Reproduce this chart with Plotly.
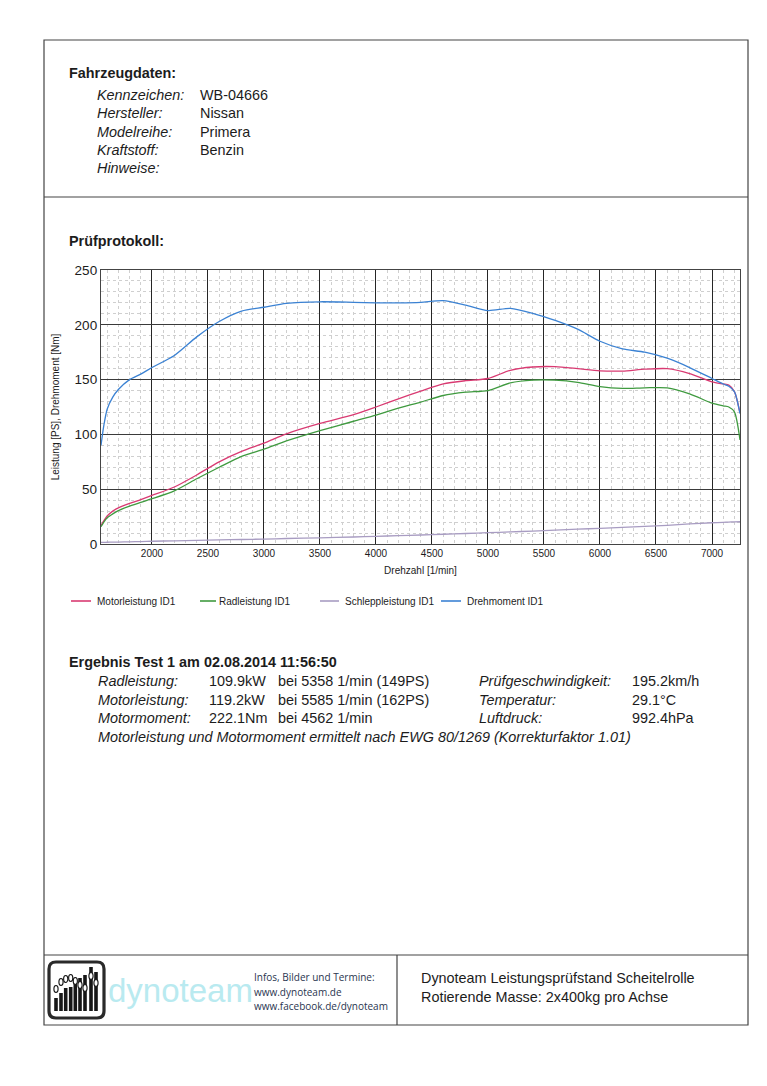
import plotly.graph_objects as go

# ---------------- data ----------------
rpm = [1545, 1570, 1600, 1650, 1700, 1800, 1900, 2000, 2200, 2400, 2600, 2800,
       3000, 3200, 3500, 3800, 4000, 4200, 4400, 4600, 4800, 5000, 5200, 5400,
       5600, 5800, 6000, 6200, 6400, 6600, 6800, 7000, 7100, 7150, 7200, 7250]

motorleistung = [17, 21, 25.5, 30, 33, 37, 40.5, 44.3, 52, 63, 75, 84.5,
                 92, 100.5, 110, 118, 125, 132.5, 139.5, 146, 149, 151, 158.5, 161.5,
                 161.8, 160, 158, 157.8, 159.5, 160, 155.5, 148, 146, 145, 139, 119.5]

radleistung = [15.8, 20, 24, 27.5, 30.5, 34.5, 38, 41.3, 48.5, 59.5, 70, 80,
               86.5, 94, 103.4, 112, 117.5, 124, 129.5, 135.5, 138.5, 140, 147, 149.5,
               149.5, 147.5, 143.6, 142, 142.5, 142.5, 137, 128.5, 126, 125, 120.5, 95]

schleppleistung = [1.5, 1.5, 1.6, 1.7, 1.8, 2.0, 2.2, 2.5, 2.9, 3.3, 3.7, 4.1,
                   4.5, 5.0, 5.6, 6.4, 7.0, 7.6, 8.2, 8.9, 9.6, 10.3, 11.0, 11.8,
                   12.6, 13.5, 14.3, 15.2, 16.1, 17.0, 18.3, 19.4, 19.8, 20.0, 20.2, 20.3]

drehmoment = [90, 108, 123, 134, 141, 150, 155, 161, 172, 189, 203, 212.5,
              216, 219.5, 221, 220.5, 220, 220, 220.5, 222, 218, 213, 215, 210.5,
              204, 196, 185, 178, 175, 169.5, 161, 151, 146, 144, 139, 119]

series_names = ["Motorleistung ID1", "Radleistung ID1", "Schleppleistung ID1", "Drehmoment ID1"]
series_colors = ["#d93a72", "#3f9a3f", "#a89cc2", "#3b82d3"]
series_values = [motorleistung, radleistung, schleppleistung, drehmoment]

x_ticks = [2000, 2500, 3000, 3500, 4000, 4500, 5000, 5500, 6000, 6500, 7000]
y_ticks = [0, 50, 100, 150, 200, 250]

vehicle_labels = ["Kennzeichen:", "Hersteller:", "Modelreihe:", "Kraftstoff:", "Hinweise:"]
vehicle_values = ["WB-04666", "Nissan", "Primera", "Benzin", ""]

result_labels = ["Radleistung:", "Motorleistung:", "Motormoment:"]
result_values = ["109.9kW", "119.2kW", "222.1Nm"]
result_at = ["bei 5358 1/min (149PS)", "bei 5585 1/min (162PS)", "bei 4562 1/min"]
cond_labels = ["Prüfgeschwindigkeit:", "Temperatur:", "Luftdruck:"]
cond_values = ["195.2km/h", "29.1°C", "992.4hPa"]

# ---------------- layout helpers ----------------
OFF = 8                      # page body margin of the browser
W, H = 767 - 2 * OFF, 1086 - 2 * OFF
PL, PR, PT, PB = 101, 740, 270, 544  # plot area in page pixels


def X(p):
    return (p - PL) / (PR - PL)


def Y(p):
    return (PB - p) / (PB - PT)


FONT = "Liberation Sans, Arial, sans-serif"
TXT = "#1c1c1c"
FS = 14.4

fig = go.Figure()
for name, col, vals in zip(series_names, series_colors, series_values):
    fig.add_trace(go.Scatter(x=rpm, y=vals, name=name, mode="lines",
                             line=dict(color=col, width=1.3, shape="spline", smoothing=0.7),
                             showlegend=False))

annotations = []
shapes = []


def text(x, y, s, size=FS, bold=False, italic=False, color=TXT, family=FONT, anchor="left"):
    if bold:
        s = "<b>" + s + "</b>"
    if italic:
        s = "<i>" + s + "</i>"
    annotations.append(dict(x=X(x), y=Y(y), xref="paper", yref="paper", text=s,
                            showarrow=False, xanchor=anchor, yanchor="middle",
                            borderpad=0, xshift=-1,
                            font=dict(size=size, color=color, family=family)))


def line(x0, y0, x1, y1, color="#444", width=1.2):
    shapes.append(dict(type="line", xref="paper", yref="paper", x0=X(x0), y0=Y(y0),
                       x1=X(x1), y1=Y(y1), line=dict(color=color, width=width)))


# page frame
shapes.append(dict(type="rect", xref="paper", yref="paper", x0=X(44), x1=X(748),
                   y0=Y(40), y1=Y(1025), line=dict(color="#444", width=1.2)))
line(44, 197, 748, 197)
line(44, 955, 748, 955)
line(397, 955, 397, 1025)

# header
text(69, 73, "Fahrzeugdaten:", bold=True)
for i, (lab, val) in enumerate(zip(vehicle_labels, vehicle_values)):
    yy = 95 + i * 18.3
    text(97, yy, lab, italic=True)
    if val:
        text(200, yy, val)

text(69, 241, "Prüfprotokoll:", bold=True)

# legend (manual)
leg_pos = [(71, 91, 97), (200, 216, 219), (320, 339, 345), (441, 461, 467)]
for (l0, l1, tx), name, col in zip(leg_pos, series_names, series_colors):
    line(l0, 601, l1, 601, color=col, width=1.6)
    text(tx, 601, name, size=10)

# results
text(69, 662, "Ergebnis Test 1 am 02.08.2014 11:56:50", bold=True)
for i in range(3):
    yy = 681 + i * 18.5
    text(98, yy, result_labels[i], italic=True)
    text(209, yy, result_values[i])
    text(278, yy, result_at[i])
    text(479, yy, cond_labels[i], italic=True)
    text(632, yy, cond_values[i])
text(98, 737, "Motorleistung und Motormoment ermittelt nach EWG 80/1269 (Korrekturfaktor 1.01)", italic=True)

# footer right
text(421, 978, "Dynoteam Leistungsprüfstand Scheitelrolle")
text(421, 997, "Rotierende Masse: 2x400kg pro Achse")


# footer logo
def rounded_rect(x0, y0, x1, y1, r):
    xs, ys = X, Y
    return (f"M {xs(x0+r)} {ys(y0)} L {xs(x1-r)} {ys(y0)} Q {xs(x1)} {ys(y0)} {xs(x1)} {ys(y0+r)} "
            f"L {xs(x1)} {ys(y1-r)} Q {xs(x1)} {ys(y1)} {xs(x1-r)} {ys(y1)} "
            f"L {xs(x0+r)} {ys(y1)} Q {xs(x0)} {ys(y1)} {xs(x0)} {ys(y1-r)} "
            f"L {xs(x0)} {ys(y0+r)} Q {xs(x0)} {ys(y0)} {xs(x0+r)} {ys(y0)} Z")


shapes.append(dict(type="path", xref="paper", yref="paper",
                   path=rounded_rect(49, 962, 104, 1018, 7),
                   line=dict(color="#2a2a2a", width=3.2), fillcolor="white"))
bar_x = [56, 61, 65.7, 70.7, 75.3, 80, 85, 91, 96]
bar_top = [998, 993, 988, 987, 980, 978, 975, 967, 972]
oval_y = [989, 982, 979, 978, 981, 985, 988, 976, 983]
for bx, bt, oy in zip(bar_x, bar_top, oval_y):
    shapes.append(dict(type="rect", xref="paper", yref="paper", x0=X(bx - 1.8), x1=X(bx + 1.8),
                       y0=Y(bt), y1=Y(1011), line=dict(width=0), fillcolor="#161616"))
    shapes.append(dict(type="circle", xref="paper", yref="paper", x0=X(bx - 2.1), x1=X(bx + 2.1),
                       y0=Y(oy - 3.5), y1=Y(oy + 3.5), line=dict(color="#161616", width=1.1),
                       fillcolor="white"))

text(108, 990, "dynoteam", size=33, color="#b9eaf0", family="Liberation Sans, Arial")
INFO = "Open Sans, Noto Sans, sans-serif"
text(254, 977, "Infos, Bilder und Termine:", size=10, color="#2a3550", family=INFO)
text(254, 992, "www.dynoteam.de", size=10, color="#2a3550", family=INFO)
text(254, 1006, "www.facebook.de/dynoteam", size=10, color="#2a3550", family=INFO)

fig.update_layout(
    width=W, height=H, autosize=False,
    margin=dict(l=PL - OFF, r=W - (PR - OFF), t=PT - OFF, b=H - (PB - OFF), pad=0),
    paper_bgcolor="white", plot_bgcolor="white",
    font=dict(family=FONT, color=TXT),
    showlegend=False,
    annotations=annotations, shapes=shapes,
    xaxis=dict(range=[1545, 7250], tickvals=x_ticks, ticktext=[str(v) for v in x_ticks],
               showgrid=True, gridcolor="#262626", gridwidth=1.3,
               minor=dict(dtick=100, tick0=0, showgrid=True, gridcolor="#cfcfcf",
                          griddash="dot", gridwidth=1),
               showline=True, linecolor="#444", linewidth=1.3, mirror=True,
               ticks="", tickfont=dict(size=10, color=TXT), automargin=False,
               zeroline=False,
               title=dict(text="Drehzahl [1/min]", font=dict(size=10, color=TXT), standoff=8)),
    yaxis=dict(range=[0, 250], tickvals=y_ticks, ticktext=[str(v) for v in y_ticks],
               showgrid=True, gridcolor="#3a3a3a", gridwidth=1.3,
               minor=dict(dtick=10, tick0=0, showgrid=True, gridcolor="#cfcfcf",
                          griddash="dot", gridwidth=1),
               showline=True, linecolor="#444", linewidth=1.3, mirror=True,
               ticks="", tickfont=dict(size=13.5, color=TXT), automargin=False,
               zeroline=False,
               title=dict(text="Leistung [PS], Drehmoment [Nm]", font=dict(size=10, color=TXT),
                          standoff=13)),
)

fig.write_html("out.html")
